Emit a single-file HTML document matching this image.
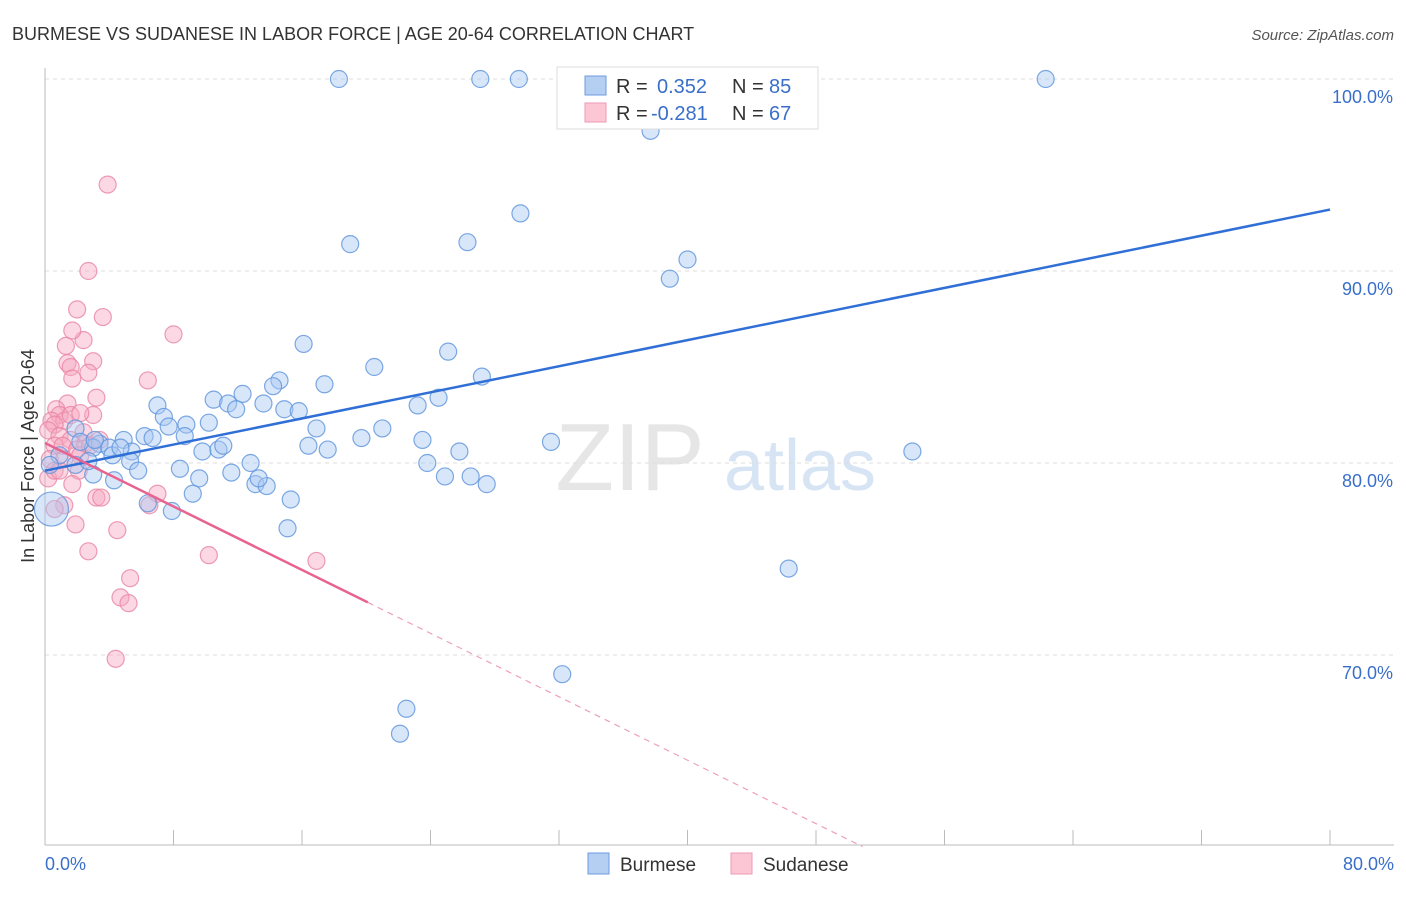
<!DOCTYPE html>
<html><head><meta charset="utf-8"><style>
body{margin:0;background:#fff;font-family:"Liberation Sans",sans-serif;}
svg text{font-family:"Liberation Sans",sans-serif;}
</style></head><body>
<svg id="chart" width="1406" height="892">
<text x="12" y="40" font-size="18" fill="#333">BURMESE VS SUDANESE IN LABOR FORCE | AGE 20-64 CORRELATION CHART</text>
<text x="1394" y="40" font-size="15" fill="#555" text-anchor="end" font-style="italic">Source: ZipAtlas.com</text>
<text x="630" y="490" font-size="96" fill="#e6e6e6" font-family="Liberation Serif" text-anchor="middle">ZIP</text>
<text x="800" y="490" font-size="72" fill="#d6e4f4" text-anchor="middle">atlas</text>
<g id="grid"></g>
<g id="axes"></g>
<g id="pts"></g>
<g id="lines"></g>
<text transform="translate(34,456) rotate(-90)" font-size="18" fill="#333" text-anchor="middle">In Labor Force | Age 20-64</text>
<text x="45" y="870" font-size="18" fill="#3a6fc9">0.0%</text>
<text x="1394" y="870" font-size="18" fill="#3a6fc9" text-anchor="end">80.0%</text>
<g>
<rect x="557" y="67" width="261" height="62" fill="#fff" stroke="#ddd"/>
<rect x="585" y="76" width="21" height="19" fill="#b5cff3" stroke="#6d9be0"/>
<rect x="585" y="103" width="21" height="19" fill="#fcc6d5" stroke="#ec9ab3"/>
<text x="616" y="93" font-size="20" fill="#333">R =</text>
<text x="657" y="93" font-size="20" fill="#3a6fc9">0.352</text>
<text x="732" y="93" font-size="20" fill="#333">N =</text>
<text x="769" y="93" font-size="20" fill="#3a6fc9">85</text>
<text x="616" y="120" font-size="20" fill="#333">R =</text>
<text x="651" y="120" font-size="20" fill="#3a6fc9">-0.281</text>
<text x="732" y="120" font-size="20" fill="#333">N =</text>
<text x="769" y="120" font-size="20" fill="#3a6fc9">67</text>
</g>
<g>
<rect x="588" y="853" width="21" height="21" fill="#b5cff3" stroke="#6d9be0"/>
<text x="620" y="871" font-size="19" fill="#333">Burmese</text></g>
<g>
<rect x="731" y="853" width="21" height="21" fill="#fcc6d5" stroke="#ec9ab3"/>
<text x="763" y="871" font-size="19" fill="#333">Sudanese</text></g>
</svg>
<script>
const yTicks=[70,80,90,100];
const xTicks=[0,8,16,24,32,40,48,56,64,72,80];
const burmeseX=[18.3,27.1,29.5,62.3,37.7,29.6,19.0,26.3,40.0,38.9,16.1,25.1,20.5,27.2,17.4,14.6,14.2,12.3,10.5,11.4,11.9,7.0,13.6,14.9,15.8,23.2,24.5,7.4,8.8,7.7,10.2,16.9,21.0,8.7,6.2,6.7,19.7,23.5,31.5,4.9,3.4,3.0,4.0,9.8,10.8,11.1,16.4,17.6,25.8,54.0,5.4,5.3,12.8,23.8,8.4,11.6,5.8,3.0,24.9,26.5,4.3,9.6,13.1,13.8,27.5,13.3,9.2,15.3,6.4,7.9,15.1,46.3,32.2,22.5,22.1,0.9,0.3,1.9,2.2,3.1,4.2,1.9,2.7,4.7];
const burmeseY=[100,100,100,100,97.3,93.0,91.4,91.5,90.6,89.6,86.2,85.8,85.0,84.5,84.1,84.3,84.0,83.6,83.3,83.1,82.8,83.0,83.1,82.8,82.7,83.0,83.4,82.4,82.0,81.9,82.1,81.8,81.8,81.4,81.4,81.3,81.3,81.2,81.1,81.2,81.0,80.8,80.8,80.6,80.7,80.9,80.9,80.7,80.6,80.6,80.6,80.1,80.0,80.0,79.7,79.5,79.6,79.4,79.3,79.3,79.1,79.2,78.9,78.8,78.9,79.2,78.4,78.1,77.9,77.5,76.6,74.5,69.0,67.2,65.9,80.4,79.9,81.8,81.1,81.2,80.4,79.9,80.1,80.8];
const burmeseBigX=[0.4], burmeseBigY=[77.6];
const sudaneseX=[3.9,2.7,2.0,3.6,2.4,8.0,1.3,1.7,3.0,1.4,1.6,2.7,1.7,6.4,3.2,1.4,3.0,0.7,0.9,0.4,1.2,0.6,0.2,1.6,2.2,0.9,1.6,2.5,0.6,1.1,2.0,2.2,0.3,1.2,2.1,0.2,1.7,3.2,3.5,7.0,6.5,1.2,0.6,1.9,4.5,2.7,10.2,5.3,4.7,5.2,16.9,4.4,0.6,0.9,3.4,2.4,2.8];
const sudaneseY=[94.5,90.0,88.0,87.6,86.4,86.7,86.1,86.9,85.3,85.2,85.0,84.7,84.4,84.3,83.4,83.1,82.5,82.8,82.5,82.2,82.2,82.0,81.7,82.5,82.6,81.4,81.2,81.0,80.9,80.9,80.7,80.4,80.2,80.2,79.6,79.2,78.9,78.2,78.2,78.4,77.8,77.8,77.6,76.8,76.5,75.4,75.2,74.0,73.0,72.7,74.9,69.8,79.6,79.6,81.2,81.6,80.9];
const blueTrend=[79.6,93.2]; // y at x=0 and x=80
const pinkTrend=[81.04,-0.413]; // intercept, slope
const pinkSolidEnd=20.1, pinkDashEnd=50.9;

const NS='http://www.w3.org/2000/svg';
const sx=v=>45+v*(1285/80), sy=v=>79+(100-v)*19.2;
function mk(tag,attrs,parent){const e=document.createElementNS(NS,tag);for(const k in attrs)e.setAttribute(k,attrs[k]);document.getElementById(parent).appendChild(e);return e;}
yTicks.forEach(t=>{
  const l=mk('line',{x1:45,x2:1394,y1:sy(t),y2:sy(t),stroke:'#ddd','stroke-dasharray':'4,4'},'grid');
  
  
  const tx=mk('text',{x:1393,y:sy(t)+24,'font-size':18,fill:'#3a6fc9','text-anchor':'end'},'grid');
  tx.textContent=t.toFixed(1)+'%';
  
  
});
const ya=mk('line',{x1:45,x2:45,y1:68,y2:845,stroke:'#bbb'},'axes');


const xa=mk('line',{x1:45,x2:1394,y1:845,y2:845,stroke:'#bbb'},'axes');


xTicks.forEach(t=>{
  const l=mk('line',{x1:sx(t),x2:sx(t),y1:830,y2:845,stroke:'#bbb'},'axes');
  
  
});
function dots(xs,ys,r,fill,stroke,name){xs.forEach((x,i)=>{
  const c=mk('circle',{cx:sx(x),cy:sy(ys[i]),r:r,fill:fill,'fill-opacity':0.45,stroke:stroke,'stroke-opacity':0.8,'stroke-width':1.2},'pts');
  
  
});}
dots(sudaneseX,sudaneseY,8.5,'#f6a9c0','#e985a5','sudanese-point');
dots(burmeseX,burmeseY,8.5,'#a9c8f1','#5d93dc','burmese-point');
dots(burmeseBigX,burmeseBigY,17,'#a9c8f1','#5d93dc','burmese-point-large');
const bl=mk('line',{x1:sx(0),y1:sy(blueTrend[0]),x2:sx(80),y2:sy(blueTrend[1]),stroke:'#2f6fd6','stroke-width':2.5},'lines');


const pf=x=>pinkTrend[0]+pinkTrend[1]*x;
const pl=mk('line',{x1:sx(0),y1:sy(pf(0)),x2:sx(pinkSolidEnd),y2:sy(pf(pinkSolidEnd)),stroke:'#e86490','stroke-width':2.5},'lines');


const pd=mk('line',{x1:sx(pinkSolidEnd),y1:sy(pf(pinkSolidEnd)),x2:sx(pinkDashEnd),y2:sy(pf(pinkDashEnd)),stroke:'#eea0b8','stroke-width':1.2,'stroke-dasharray':'6,5'},'lines');


</script>
</body></html>
